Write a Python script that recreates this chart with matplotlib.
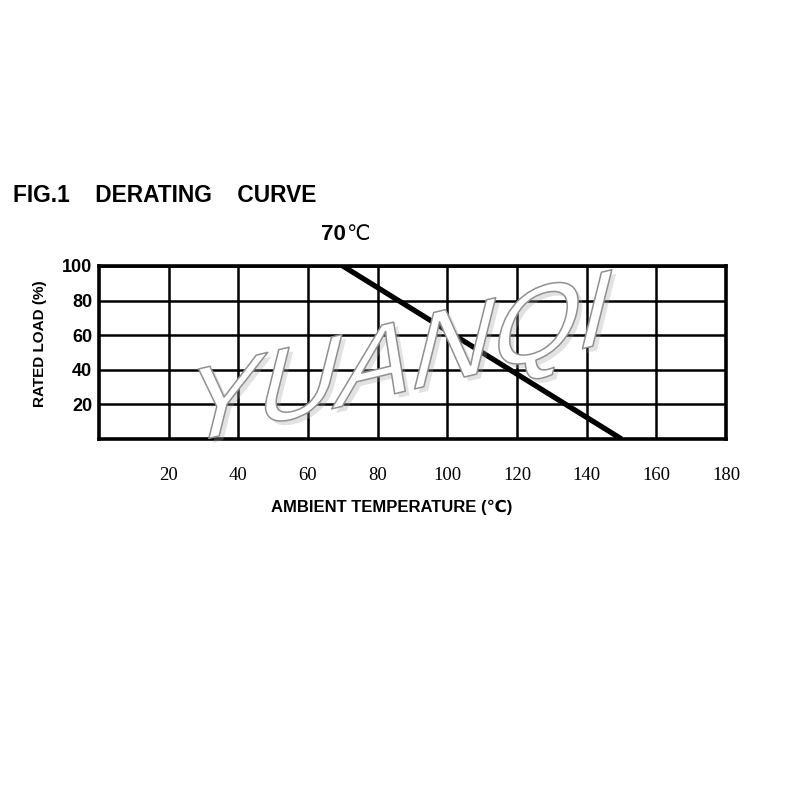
import matplotlib
matplotlib.use("Agg")
import matplotlib.pyplot as plt
import matplotlib.patheffects as pe
from matplotlib.transforms import Affine2D

# ---- data ----
temps = [70, 150]          # ambient temperature (°C)
loads = [100, 0]           # rated load (%)
x_ticks = [20, 40, 60, 80, 100, 120, 140, 160, 180]
y_ticks = [20, 40, 60, 80, 100]
x_tick_labels = [str(v) for v in x_ticks]
y_tick_labels = [str(v) for v in y_ticks]

W = H = 800.0


class Skewed(pe.AbstractPathEffect):
    """Skew (and shift) the glyph paths before the inner effects draw them."""
    def __init__(self, effects, xs, ys, dy=0.0):
        super().__init__()
        self.effects = effects
        self.xs, self.ys, self.dy = xs, ys, dy

    def draw_path(self, renderer, gc, tpath, affine, rgbFace=None):
        aff = Affine2D().skew_deg(self.xs, self.ys) + affine + Affine2D().translate(0, -self.dy)
        for e in self.effects:
            e.draw_path(renderer, gc, tpath, aff, rgbFace)


fig = plt.figure(figsize=(8, 8), dpi=100)
ax = fig.add_axes([99 / W, 1 - 439 / H, (726 - 99) / W, (439 - 266) / H])
ax.set_xlim(0, 180)
ax.set_ylim(0, 100)

ax.grid(True, color="black", lw=1.8)
ax.set_axisbelow(True)
for s in ax.spines.values():
    s.set_linewidth(2.6)
    s.set_color("black")

ax.plot(temps, loads, color="black", lw=3.8, solid_capstyle="butt", zorder=3)

ax.set_xticks(x_ticks)
ax.set_xticklabels(x_tick_labels, family=["Liberation Serif", "DejaVu Serif"], fontsize=13.5)
ax.set_yticks(y_ticks)
ax.set_yticklabels(y_tick_labels, family=["Liberation Sans", "DejaVu Sans"], fontsize=13, fontweight="bold")
ax.tick_params(axis="x", length=0, pad=20)
ax.tick_params(axis="y", length=0, pad=5)

# titles / labels
fig.text(13 / W, 1 - 202 / H, "FIG.1    DERATING    CURVE", fontsize=16.4, fontweight="bold",
         family=["Liberation Sans", "DejaVu Sans"], ha="left", va="baseline")
fig.text(321 / W, 1 - 240 / H, "70", fontsize=16, fontweight="bold",
         family=["Liberation Sans", "DejaVu Sans"], ha="left", va="baseline")
fig.text(346 / W, 1 - 240 / H, "℃", fontsize=15,
         family=["DejaVu Sans"], ha="left", va="baseline")
fig.text(392 / W, 1 - 507 / H, "AMBIENT TEMPERATURE (℃)", fontsize=12, fontweight="bold",
         family=["Liberation Sans Narrow", "Liberation Sans", "DejaVu Sans"], ha="center", va="center")
fig.text(40 / W, 1 - 344 / H, "RATED LOAD (%)", fontsize=11, fontweight="bold", rotation=90,
         family=["Liberation Sans Narrow", "Liberation Sans", "DejaVu Sans"], ha="center", va="center")

# watermark (anchor placed higher, shifted down by the effect)
shift = 40
wm = fig.text(177 / W, 1 - (446 - shift) / H, "YUANQI", fontsize=80, color="white",
              family=["Liberation Sans", "DejaVu Sans"], ha="left", va="baseline", zorder=10)
wm.set_path_effects([Skewed([
    pe.SimplePatchShadow(offset=(3, -3), shadow_rgbFace="#a0a0a0", alpha=0.3),
    pe.Stroke(linewidth=1.1, foreground="#909090"),
], 14, 13.5, dy=shift)])

fig.savefig("out.png", dpi=100, facecolor="white")
